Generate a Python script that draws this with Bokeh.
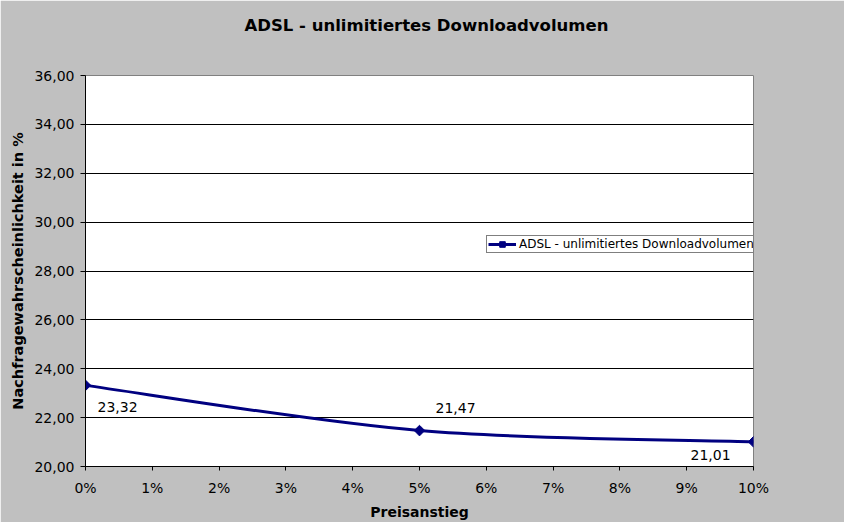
import numpy as np
from bokeh.plotting import figure
from bokeh.models import FixedTicker, Legend, LegendItem, ColumnDataSource, Title, Range1d
from bokeh.embed import file_html
from bokeh.resources import INLINE
from bokeh.core.properties import value

# ---------------- data ----------------
title_text = "ADSL - unlimitiertes Downloadvolumen"
series_name = "ADSL - unlimitiertes Downloadvolumen"
x_label = "Preisanstieg"
y_label = "Nachfragewahrscheinlichkeit in %"

price_increase = [0, 5, 10]            # percent
demand = [23.32, 21.47, 21.01]         # percent
value_labels = ["23,32", "21,47", "21,01"]

x_ticks = [0, 1, 2, 3, 4, 5, 6, 7, 8, 9, 10]
x_tick_labels = ["0%", "1%", "2%", "3%", "4%", "5%", "6%", "7%", "8%", "9%", "10%"]
y_ticks = [20, 22, 24, 26, 28, 30, 32, 34, 36]
y_tick_labels = ["20,00", "22,00", "24,00", "26,00", "28,00", "30,00", "32,00", "34,00", "36,00"]

# ---------------- styles ----------------
FONT = "DejaVu Sans"
NAVY = "#000080"
label_dx = [12, 16, -63]   # pixel offsets of the data labels
label_dy = [22, -23, 13]

# smoothed line (Bezier segments through the data points)
P = np.column_stack([np.array(price_increase, float), np.array(demand, float)])
n = len(P)
x0, y0, x1, y1, cx0, cy0, cx1, cy1 = ([] for _ in range(8))
for i in range(n - 1):
    p0, p1 = P[i], P[i + 1]
    pm, pp = P[max(i - 1, 0)], P[min(i + 2, n - 1)]
    c1 = p0 + (p1 - pm) / 6.0
    c2 = p1 - (pp - p0) / 6.0
    x0.append(p0[0]); y0.append(p0[1]); x1.append(p1[0]); y1.append(p1[1])
    cx0.append(c1[0]); cy0.append(c1[1]); cx1.append(c2[0]); cy1.append(c2[1])

p = figure(width=844, height=522, output_backend="svg", toolbar_location=None,
           x_range=Range1d(0, 10), y_range=Range1d(20, 36),
           min_border_left=85, min_border_right=91, min_border_top=75, min_border_bottom=54,
           border_fill_color="#C0C0C0", background_fill_color="white",
           outline_line_color="#808080", outline_line_width=1)

curve = p.bezier(x0=x0, y0=y0, x1=x1, y1=y1, cx0=cx0, cy0=cy0, cx1=cx1, cy1=cy1,
                 line_color=NAVY, line_width=3)
markers = p.scatter(x=price_increase, y=demand, marker="square", angle=np.pi / 4, size=7.5,
                    fill_color=NAVY, line_color=NAVY)

src = ColumnDataSource(dict(x=price_increase, y=demand, t=value_labels, dx=label_dx, dy=label_dy))
p.text(x="x", y="y", text="t", x_offset="dx", y_offset="dy", source=src,
       text_font=value(FONT), text_font_size="14px", text_color="black",
       text_align="left", text_baseline="middle")

# title: a thin spacer next to the frame, then the real title above it
p.add_layout(Title(text=" ", text_font_size="1px", standoff=23), "above")
p.add_layout(Title(text=title_text, align="left", offset=159, vertical_align="middle",
                   standoff=28, text_font=FONT, text_font_size="16.5px",
                   text_font_style="bold", text_color="black"), "above")

# axes
for ax in (p.xaxis, p.yaxis):
    ax.axis_line_color = "black"
    ax.major_tick_line_color = "black"
    ax.minor_tick_line_color = None
    ax.major_tick_in = 0
    ax.major_label_text_font = FONT
    ax.major_label_text_font_size = "14px"
    ax.major_label_text_color = "black"
    ax.axis_label_text_font = FONT
    ax.axis_label_text_font_style = "bold"
    ax.axis_label_text_color = "black"

p.xaxis.ticker = FixedTicker(ticks=x_ticks)
p.xaxis.major_label_overrides = {t: l for t, l in zip(x_ticks, x_tick_labels)}
p.xaxis.major_tick_out = 4
p.xaxis.major_label_standoff = 9
p.xaxis.axis_label = x_label
p.xaxis.axis_label_text_font_size = "14px"
p.xaxis.axis_label_standoff = 5

p.yaxis.ticker = FixedTicker(ticks=y_ticks)
p.yaxis.major_label_overrides = {t: l for t, l in zip(y_ticks, y_tick_labels)}
p.yaxis.major_tick_out = 5
p.yaxis.major_label_standoff = 6
p.yaxis.axis_label = y_label
p.yaxis.axis_label_text_font_size = "14.5px"
p.yaxis.axis_label_standoff = 5

p.xgrid.visible = False
p.ygrid.ticker = FixedTicker(ticks=y_ticks)
p.ygrid.grid_line_color = "black"
p.ygrid.grid_line_width = 1

legend = Legend(items=[LegendItem(label=series_name, renderers=[curve, markers])],
                location=(401, 213), border_line_color="black", border_line_width=1,
                background_fill_color="white", background_fill_alpha=1.0,
                label_text_font=FONT, label_text_font_size="12px", label_text_color="black",
                glyph_width=28, glyph_height=14, label_height=14, label_standoff=3,
                padding=1, margin=0, spacing=0)
p.add_layout(legend)

open("out.html", "w").write(file_html(p, INLINE))
